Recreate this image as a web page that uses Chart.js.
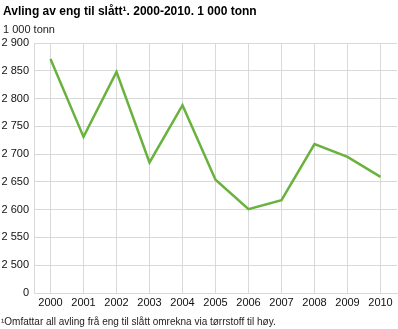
<!DOCTYPE html>
<html>
<head>
<meta charset="utf-8">
<script src="https://cdn.jsdelivr.net/npm/chart.js@4/dist/chart.umd.min.js"></script>
<style>
    body { margin: 0; background: #fff; font-family: "Liberation Sans", Arial, sans-serif; }
    #wrap { position: relative; width: 398px; height: 329px; overflow: hidden; }
    #wrap canvas { position: absolute; left: 0; top: 0; }
    .txt { position: absolute; left: 3px; color: #000; white-space: nowrap; line-height: 1.15; }
    #title { top: 5px; font-size: 12px; font-weight: bold; }
    #unit { top: 23px; font-size: 11px; color: #222; }
    #note { top: 316px; left: 1px; font-size: 10px; color: #222; }
</style>
</head>
<body>
<div id="wrap">
    <canvas id="chart" width="398" height="329"></canvas>
    <div class="txt" id="title">Avling av eng til slått¹. 2000-2010. 1 000 tonn</div>
    <div class="txt" id="unit">1 000 tonn</div>
    <div class="txt" id="note">¹Omfattar all avling frå eng til slått omrekna via tørrstoff til høy.</div>
</div>
<script>
const years = ['2000', '2001', '2002', '2003', '2004', '2005', '2006', '2007', '2008', '2009', '2010'];
const harvest = [2871, 2731, 2848, 2685, 2788, 2654, 2601, 2617, 2718, 2695, 2659];

// axis is broken: the lowest tick stands for 0
const yMin = 2450;
const yMax = 2900;
const yStep = 50;

function fmtNo(v) {
    return String(v).replace(/\B(?=(\d{3})+(?!\d))/g, ' ');
}

document.addEventListener('DOMContentLoaded', function () {
    const ctx = document.getElementById('chart').getContext('2d');
    const gridCol = '#d9d9d9';

    new Chart(ctx, {
        type: 'line',
        data: {
            labels: years,
            datasets: [{
                data: harvest,
                borderColor: '#6ab23e',
                borderWidth: 2.5,
                pointRadius: 0,
                tension: 0,
                fill: false
            }]
        },
        options: {
            responsive: false,
            animation: false,
            layout: { padding: { top: 43, right: 1, bottom: 14, left: 0 } },
            plugins: {
                legend: { display: false },
                tooltip: { enabled: false }
            },
            scales: {
                x: {
                    offset: true,
                    grid: { color: gridCol, lineWidth: 1, drawTicks: false, offset: false },
                    border: { color: gridCol },
                    ticks: {
                        color: '#111',
                        font: { family: '"Liberation Sans", Arial, sans-serif', size: 11 },
                        padding: 3,
                        maxRotation: 0,
                        autoSkip: false
                    },
                    afterFit: (scale) => { scale.height = 22; }
                },
                y: {
                    min: yMin,
                    max: yMax,
                    grid: { color: gridCol, lineWidth: 1, drawTicks: false },
                    border: { color: gridCol },
                    ticks: {
                        stepSize: yStep,
                        color: '#111',
                        font: { family: '"Liberation Sans", Arial, sans-serif', size: 11 },
                        padding: 5,
                        callback: (v) => v === yMin ? '0' : fmtNo(v)
                    },
                    afterFit: (scale) => { scale.width = 34; }
                }
            }
        }
    });
});
</script>
</body>
</html>
